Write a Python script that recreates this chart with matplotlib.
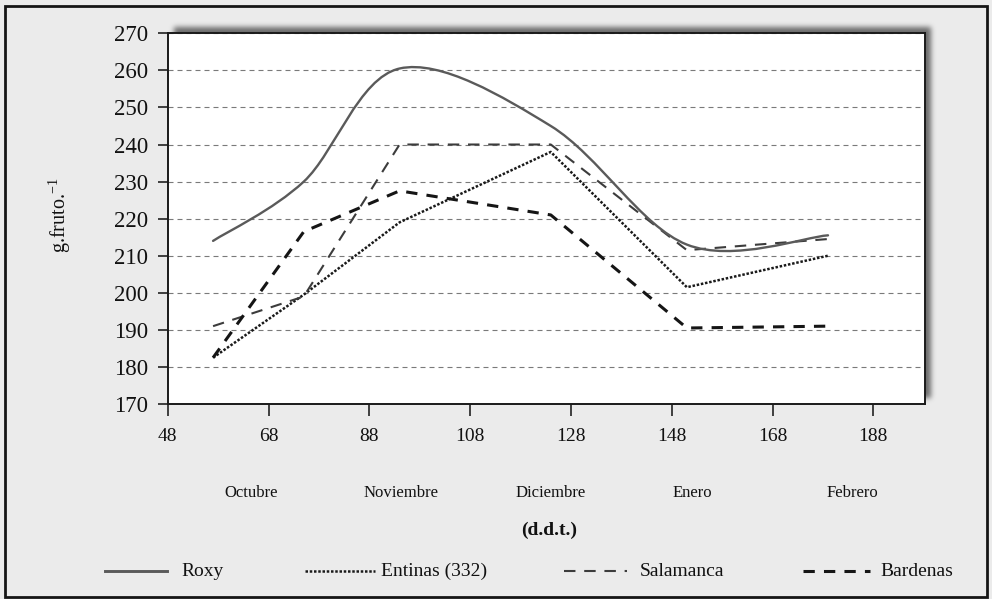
import math
import numpy as np
import matplotlib
matplotlib.use("Agg")
import matplotlib.pyplot as plt
from matplotlib.path import Path
from matplotlib.patches import PathPatch, Rectangle
from matplotlib.lines import Line2D

# ---------------- data ----------------
days = [57, 75, 94, 124, 151, 179]
roxy = [214, 230, 260.5, 245, 213, 215.5]
entinas = [182.5, 199.5, 219, 238, 201.5, 210]
salamanca = [191, 199, 240, 240, 211.5, 214.5]
bardenas = [182.5, 216.5, 227.5, 221, 190.5, 191]

series_names = ["Roxy", "Entinas (332)", "Salamanca", "Bardenas"]
x_ticks = [48, 68, 88, 108, 128, 148, 168, 188]
y_ticks = [170, 180, 190, 200, 210, 220, 230, 240, 250, 260, 270]
months = ["Octubre", "Noviembre", "Diciembre", "Enero", "Febrero"]
month_pos = [64.5, 94.3, 124, 152, 183.8]
x_label = "(d.d.t.)"
y_label = r"g.fruto.$^{\mathregular{-1}}$"

plt.rcParams['font.family'] = ['Liberation Serif', 'DejaVu Serif']
plt.rcParams['mathtext.fontset'] = 'custom'
plt.rcParams['mathtext.rm'] = 'Liberation Serif'

W, H = 992, 599
fig = plt.figure(figsize=(W / 100, H / 100), dpi=100)

# ---------------- background with drop shadow ----------------
bg_val = 0.925
erf = np.vectorize(math.erf)
xs = np.arange(W) + 0.5
ys = np.arange(H) + 0.5
s = 2.6 * math.sqrt(2)
fx = 0.5 * (erf((xs - 174) / s) - erf((xs - 931) / s))
fy = 0.5 * (erf((ys - 27) / s) - erf((ys - 398) / s))
shadow = np.outer(fy, fx)
img = bg_val - shadow * (bg_val - 0.42)
rgb = np.dstack([img, img, img])
ax_bg = fig.add_axes([0, 0, 1, 1], zorder=-10)
ax_bg.imshow(rgb, aspect='auto', interpolation='nearest', extent=(0, W, H, 0))
ax_bg.set_xlim(0, W)
ax_bg.set_ylim(H, 0)
ax_bg.axis('off')

# outer frame
fig.patches.append(Rectangle((5 / W, 2 / H), 982 / W, 591 / H, transform=fig.transFigure,
                             fill=False, lw=2.0, ec='#151515', zorder=5))

# ---------------- main axes ----------------
L, R, T, B = 167.7, 925.3, 33.3, 404.0
ax = fig.add_axes([L / W, (H - B) / H, (R - L) / W, (B - T) / H])
ax.set_facecolor('white')
ax.set_xlim(48, 198.3)
ax.set_ylim(170, 270)

styles = {
    "Roxy": dict(color='#5a5a5a', lw=1.7, ls='-'),
    "Entinas (332)": dict(color='#1a1a1a', lw=1.8, ls=(0, (1, 0.7))),
    "Salamanca": dict(color='#3c3c3c', lw=1.5, ls=(0, (5.5, 4.2))),
    "Bardenas": dict(color='#151515', lw=2.2, ls=(0, (3.7, 3.0))),
}


def smooth_path(x, y):
    """Excel-like smoothed Bezier path through the data points."""
    pts = np.column_stack([x, y]).astype(float)
    n = len(pts)
    verts = [pts[0]]
    codes = [Path.MOVETO]
    for i in range(n - 1):
        p0 = pts[i - 1] if i > 0 else pts[i]
        p1 = pts[i]
        p2 = pts[i + 1]
        p3 = pts[i + 2] if i + 2 < n else pts[i + 1]
        c1 = p1 + (p2 - p0) / 6.0
        c2 = p2 - (p3 - p1) / 6.0
        verts += [c1, c2, p2]
        codes += [Path.CURVE4] * 3
    return Path(verts, codes)


st = styles["Roxy"]
ax.add_patch(PathPatch(smooth_path(days, roxy), fill=False, edgecolor=st['color'],
                       lw=st['lw'], ls=st['ls'], zorder=4, capstyle='round'))
for name, vals in zip(series_names[1:], [entinas, salamanca, bardenas]):
    st = styles[name]
    ax.plot(days, vals, color=st['color'], lw=st['lw'], ls=st['ls'], zorder=3,
            solid_joinstyle='miter')

# grid
ax.set_yticks(y_ticks)
ax.set_xticks(x_ticks)
ax.yaxis.grid(True, color='#7a7a7a', lw=0.8, ls=(0, (4.5, 3.6)))
ax.set_axisbelow(True)
for sp in ax.spines.values():
    sp.set_color('#1a1a1a')
    sp.set_linewidth(1.4)

ax.tick_params(axis='y', direction='out', length=7.2, width=1.1, pad=7,
               labelsize=16.5, colors='#111')
ax.tick_params(axis='x', direction='out', length=8.6, width=1.1, pad=9,
               labelsize=14, colors='#111')

# month labels
for m, p in zip(months, month_pos):
    ax.text(p, -0.24, m, transform=ax.get_xaxis_transform(), ha='center', va='center',
            fontsize=12, color='#111')

ax.text(0.504, -0.34, x_label, transform=ax.transAxes, ha='center', va='center',
        fontsize=14, fontweight='bold', color='#111')

fig.text(60 / W, (H - 215) / H, y_label, rotation=90, ha='center', va='center',
         fontsize=14.5, color='#111')

# ---------------- legend ----------------
leg_y = 571
leg_items = [(105, 167, 181), (305, 375, 381), (564, 627, 640), (803, 870, 880)]
for name, (x0, x1, xt) in zip(series_names, leg_items):
    st = styles[name]
    fig.add_artist(Line2D([x0 / W, x1 / W], [(H - leg_y) / H] * 2, transform=fig.transFigure,
                          color=st['color'], lw=st['lw'] + (0.4 if name == "Roxy" else 0),
                          ls=st['ls']))
    fig.text(xt / W, (H - leg_y) / H, name, ha='left', va='center', fontsize=14,
             color='#111')

fig.savefig("out.png", dpi=100)
